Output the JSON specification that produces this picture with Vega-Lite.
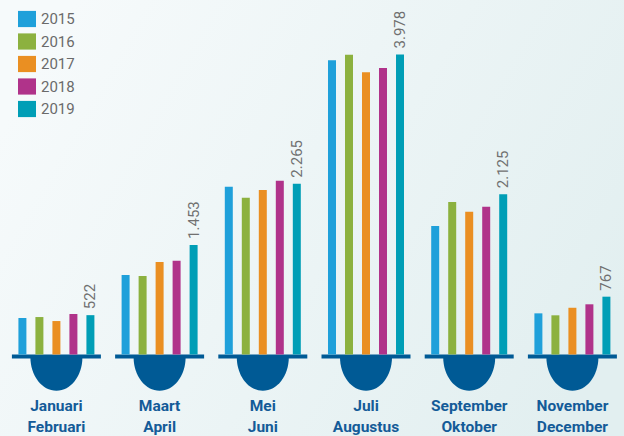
{
  "$schema": "https://vega.github.io/schema/vega-lite/v6.json",
  "width": 624,
  "height": 436,
  "autosize": {"type": "none"},
  "padding": 0,
  "background": "#eef5f6",
  "config": {
    "view": {
      "stroke": null,
      "fill": {"gradient": "linear", "x1": 0, "y1": 0.3, "x2": 1, "y2": 0.7, "stops": [{"offset": 0, "color": "#f6fafb"}, {"offset": 1, "color": "#e2eff0"}]}
    },
    "font": "Roboto",
    "locale": {"number": {"decimal": ",", "thousands": ".", "grouping": [3], "currency": ["€", ""]}},
    "legend": {
      "orient": "none",
      "legendX": 18,
      "legendY": 10,
      "padding": 0,
      "title": null,
      "symbolType": "M-1,-0.9H1V0.9H-1Z",
      "symbolSize": 324,
      "symbolStrokeWidth": 0,
      "symbolOpacity": 1,
      "labelFont": "Roboto",
      "labelFontSize": 15,
      "labelColor": "#6a6a6a",
      "labelOffset": 5,
      "rowPadding": 4.5
    }
  },
  "data": {
    "values": [
      {"periode": "Januari Februari", "jaar": "2015", "aantal": 484},
      {"periode": "Januari Februari", "jaar": "2016", "aantal": 497},
      {"periode": "Januari Februari", "jaar": "2017", "aantal": 444},
      {"periode": "Januari Februari", "jaar": "2018", "aantal": 537},
      {"periode": "Januari Februari", "jaar": "2019", "aantal": 522},
      {"periode": "Maart April", "jaar": "2015", "aantal": 1054},
      {"periode": "Maart April", "jaar": "2016", "aantal": 1041},
      {"periode": "Maart April", "jaar": "2017", "aantal": 1226},
      {"periode": "Maart April", "jaar": "2018", "aantal": 1244},
      {"periode": "Maart April", "jaar": "2019", "aantal": 1453},
      {"periode": "Mei Juni", "jaar": "2015", "aantal": 2225},
      {"periode": "Mei Juni", "jaar": "2016", "aantal": 2079},
      {"periode": "Mei Juni", "jaar": "2017", "aantal": 2181},
      {"periode": "Mei Juni", "jaar": "2018", "aantal": 2304},
      {"periode": "Mei Juni", "jaar": "2019", "aantal": 2265},
      {"periode": "Juli Augustus", "jaar": "2015", "aantal": 3900},
      {"periode": "Juli Augustus", "jaar": "2016", "aantal": 3975},
      {"periode": "Juli Augustus", "jaar": "2017", "aantal": 3741},
      {"periode": "Juli Augustus", "jaar": "2018", "aantal": 3798},
      {"periode": "Juli Augustus", "jaar": "2019", "aantal": 3978},
      {"periode": "September Oktober", "jaar": "2015", "aantal": 1704},
      {"periode": "September Oktober", "jaar": "2016", "aantal": 2022},
      {"periode": "September Oktober", "jaar": "2017", "aantal": 1893},
      {"periode": "September Oktober", "jaar": "2018", "aantal": 1959},
      {"periode": "September Oktober", "jaar": "2019", "aantal": 2125},
      {"periode": "November December", "jaar": "2015", "aantal": 546},
      {"periode": "November December", "jaar": "2016", "aantal": 520},
      {"periode": "November December", "jaar": "2017", "aantal": 620},
      {"periode": "November December", "jaar": "2018", "aantal": 666},
      {"periode": "November December", "jaar": "2019", "aantal": 767}
    ]
  },
  "encoding": {
    "x": {
      "field": "periode",
      "type": "nominal",
      "sort": null,
      "scale": {"paddingInner": 0, "paddingOuter": 0.0233, "align": 1},
      "axis": {
        "orient": "bottom",
        "offset": -81.5,
        "title": null,
        "domain": false,
        "ticks": false,
        "tickSize": 0,
        "labelAngle": 0,
        "labelPadding": 43.5,
        "labelBaseline": "top",
        "labelFont": "Roboto",
        "labelFontSize": 15.5,
        "labelFontWeight": "bold",
        "labelColor": "#145b98",
        "labelLineHeight": 21.5,
        "labelExpr": "split(datum.label, ' ')"
      }
    }
  },
  "layer": [
    {
      "mark": {"type": "tick", "orient": "horizontal", "size": 89, "thickness": 4, "yOffset": 2, "color": "#005a95", "opacity": 1},
      "transform": [{"filter": "datum.jaar == '2019'"}],
      "encoding": {
        "y": {"datum": 0, "type": "quantitative", "scale": {"domain": [-1080, 4700], "nice": false, "zero": false}, "axis": null}
      }
    },
    {
      "mark": {"type": "point", "filled": true, "opacity": 1, "strokeWidth": 0, "color": "#005a95", "shape": "M-1,0.1 C-1,0.815 -0.552,1.39 0,1.39 C0.552,1.39 1,0.815 1,0.1 Z", "size": 2704},
      "transform": [{"filter": "datum.jaar == '2019'"}],
      "encoding": {
        "y": {"datum": 0, "type": "quantitative"}
      }
    },
    {
      "mark": {"type": "bar"},
      "encoding": {
        "xOffset": {"field": "jaar", "type": "nominal", "scale": {"paddingInner": 0.53, "paddingOuter": 0.8}},
        "y": {"field": "aantal", "type": "quantitative"},
        "color": {
          "field": "jaar",
          "type": "nominal",
          "scale": {"domain": ["2015", "2016", "2017", "2018", "2019"], "range": ["#1fa0da", "#8cb13f", "#ea8f22", "#b0338a", "#009eb6"]}
        }
      }
    },
    {
      "mark": {"type": "text", "angle": -90, "align": "left", "baseline": "middle", "dx": 6, "dy": 0, "font": "Roboto", "fontSize": 15, "color": "#707070"},
      "transform": [{"filter": "datum.jaar == '2019'"}],
      "encoding": {
        "xOffset": {"field": "jaar", "type": "nominal"},
        "y": {"field": "aantal", "type": "quantitative"},
        "text": {"field": "aantal", "type": "quantitative", "format": ",d"}
      }
    }
  ]
}
